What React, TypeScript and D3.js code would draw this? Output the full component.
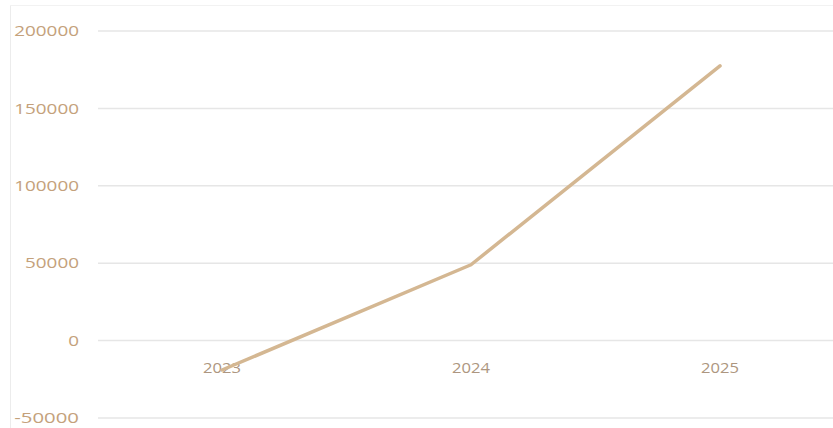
import React from "react";
import * as d3 from "d3";

const categories = ["2023", "2024", "2025"];
const values = [-19000, 49000, 177500];
const yTicks = [-50000, 0, 50000, 100000, 150000, 200000];

const W = 833;
const H = 428;

export default function App() {
  const x = d3.scaleBand<string>().domain(categories).range([97.5, 844.5]);
  const y = d3.scaleLinear().domain([-50000, 200000]).range([418, 31]);
  const line = d3
    .line<number>()
    .x((_, i) => (x(categories[i]) as number) + x.bandwidth() / 2)
    .y((d) => y(d));
  const font = "Open Sans, Calibri, Liberation Sans, sans-serif";
  return (
    <svg
      width={W}
      height={H}
      style={{ position: "fixed", left: 0, top: 0, background: "#fff" }}
    >
      <rect x={0} y={0} width={W} height={H} fill="#fff" />
      <line x1={10.5} x2={10.5} y1={5} y2={H} stroke="#ececec" strokeWidth={1} />
      <line x1={10} x2={W} y1={5.5} y2={5.5} stroke="#f2f2f2" strokeWidth={1} />
      {yTicks.map((t) => {
        const s = String(t);
        return (
          <g key={t}>
            <line
              x1={98}
              x2={W}
              y1={y(t)}
              y2={y(t)}
              stroke="#e6e6e6"
              strokeWidth={1.5}
            />
            <text
              x={79}
              y={y(t)}
              dy="0.35em"
              textAnchor="end"
              fontFamily={font}
              fontSize={15}
              fill="#c4a17b"
              textLength={s.length * 10.8}
              lengthAdjust="spacingAndGlyphs"
            >
              {s}
            </text>
          </g>
        );
      })}
      {categories.map((c) => (
        <text
          key={c}
          x={(x(c) as number) + x.bandwidth() / 2}
          y={367.5}
          dy="0.35em"
          textAnchor="middle"
          fontFamily={font}
          fontSize={15}
          fill="#ad9680"
          textLength={c.length * 9.5}
          lengthAdjust="spacingAndGlyphs"
        >
          {c}
        </text>
      ))}
      <path
        d={line(values) || ""}
        fill="none"
        stroke="#d4b792"
        strokeWidth={3.5}
        strokeLinecap="round"
        strokeLinejoin="round"
      />
    </svg>
  );
}
